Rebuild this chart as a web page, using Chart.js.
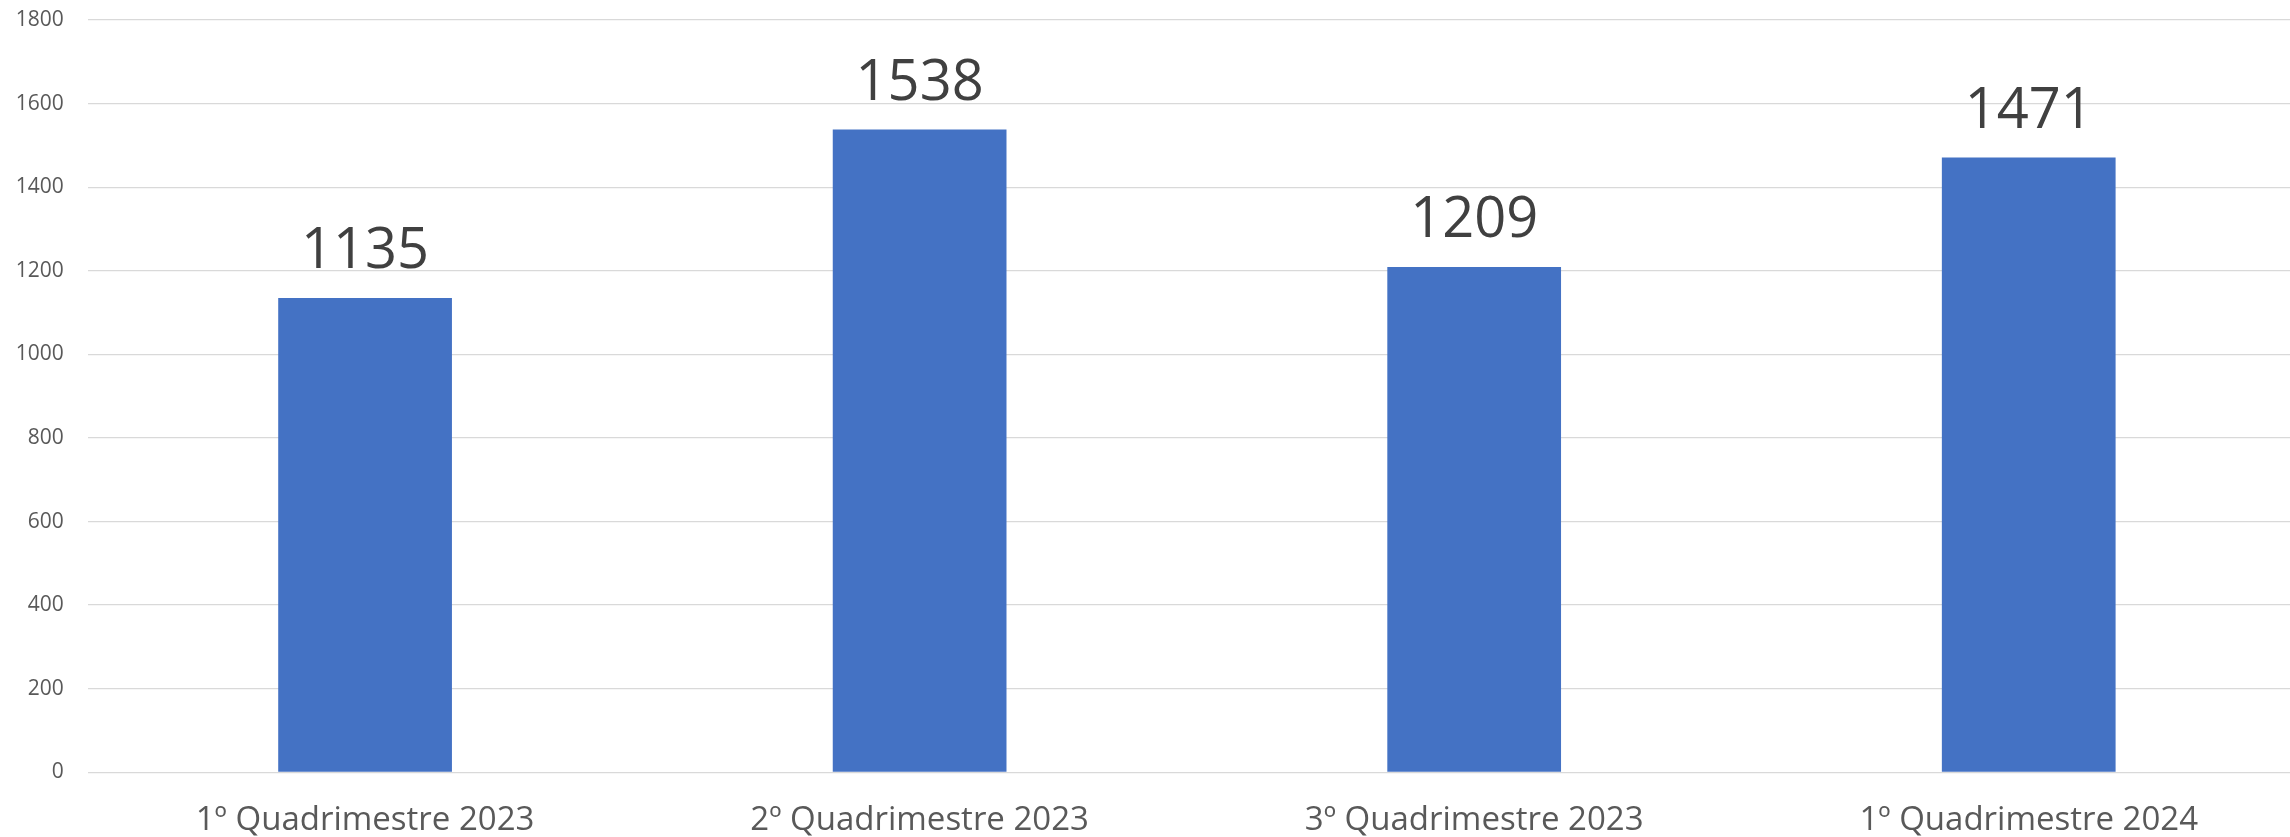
<!DOCTYPE html>
<html>
<head>
<meta charset="utf-8">
<script src="https://cdn.jsdelivr.net/npm/chart.js@4.4.0/dist/chart.umd.min.js"></script>
<style>
  html, body { margin: 0; padding: 0; overflow: hidden; background: #ffffff; }
  #wrap { position: absolute; left: 0; top: 0; width: 2306px; height: 837px; }
</style>
</head>
<body>
<div id="wrap"><canvas id="c"></canvas></div>
<script>
const categories = ["1º Quadrimestre 2023", "2º Quadrimestre 2023", "3º Quadrimestre 2023", "1º Quadrimestre 2024"];
const values = [1135, 1538, 1209, 1471];
const yMin = 0;
const yMax = 1800;
const yStep = 200;

const FONT = "'Open Sans', 'Noto Sans', sans-serif";

const valueLabels = {
  id: 'valueLabels',
  afterDatasetsDraw(chart) {
    const ctx = chart.ctx;
    const meta = chart.getDatasetMeta(0);
    ctx.save();
    ctx.font = "56px " + FONT;
    ctx.fillStyle = '#404040';
    ctx.textAlign = 'center';
    ctx.textBaseline = 'alphabetic';
    meta.data.forEach((bar, i) => {
      ctx.fillText(String(chart.data.datasets[0].data[i]), bar.x, bar.y - 30);
    });
    ctx.restore();
  }
};

new Chart(document.getElementById('c'), {
  type: 'bar',
  data: {
    labels: categories,
    datasets: [{
      data: values,
      backgroundColor: '#4472C4',
      borderWidth: 0,
      categoryPercentage: 1.0,
      barPercentage: 0.3133
    }]
  },
  options: {
    responsive: true,
    maintainAspectRatio: false,
    animation: false,
    layout: { padding: { top: 20, right: 0, bottom: 0, left: 0 } },
    plugins: { legend: { display: false }, tooltip: { enabled: false } },
    scales: {
      x: {
        grid: { display: false },
        border: { display: false },
        ticks: { color: '#595959', font: { family: FONT, size: 33 }, padding: 20, maxRotation: 0, autoSkip: false },
        afterFit(scale) { scale.height = 64.7; scale.paddingLeft = 0; scale.paddingRight = 0; }
      },
      y: {
        min: yMin, max: yMax,
        grid: { color: '#D9D9D9', lineWidth: 1.3, drawTicks: false },
        border: { display: false },
        ticks: { stepSize: yStep, color: '#595959', font: { family: FONT, size: 21 }, padding: 24,
                 callback: (v) => String(v) },
        afterFit(scale) { scale.width = 87.8; scale.paddingTop = 0; scale.paddingBottom = 0; }
      }
    }
  },
  plugins: [valueLabels]
});
</script>
</body>
</html>
